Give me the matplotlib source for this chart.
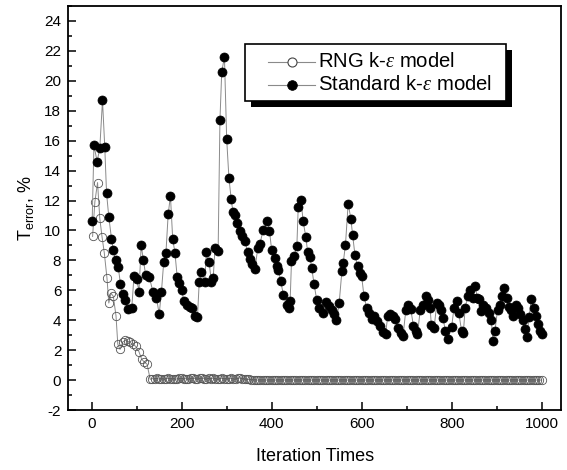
import matplotlib
matplotlib.use("Agg")
import matplotlib.pyplot as plt
from matplotlib.patches import Rectangle
from matplotlib.lines import Line2D
from matplotlib.ticker import MultipleLocator

plt.rcParams['font.family'] = ['Liberation Sans', 'DejaVu Sans']
plt.rcParams['mathtext.fontset'] = 'custom'
plt.rcParams['mathtext.rm'] = 'Liberation Sans'
plt.rcParams['mathtext.it'] = 'Liberation Serif:italic'
plt.rcParams['axes.unicode_minus'] = False

# ---------------- data ----------------
rng_iter_start = [2, 7, 13, 18, 23, 28, 34, 38, 43, 48, 54, 58, 63, 69, 75, 80,
                  85, 91, 98, 105, 111, 117, 123]
rng_val_start = [9.6, 11.9, 13.2, 10.8, 9.56, 8.5, 6.8, 5.15, 5.8, 5.6, 4.3, 2.4,
                 2.05, 2.55, 2.65, 2.6, 2.52, 2.4, 2.25, 1.9, 1.4, 1.2, 1.07]
# plateau sampled every 5 iterations from 130 to 1000
rng_iter_plateau = list(range(130, 1001, 5))
rng_val_plateau = [
    0.05, 0.10, 0.08, 0.12, 0.06, 0.10, 0.05, 0.09, 0.12, 0.07,
    0.10, 0.06, 0.08, 0.11, 0.13, 0.08, 0.10, 0.06, 0.12, 0.14,
    0.10, 0.08, 0.12, 0.15, 0.10, 0.07, 0.11, 0.09, 0.13, 0.08,
    0.06, 0.10, 0.12, 0.07, 0.10, 0.08, 0.11, 0.06, 0.09, 0.12,
    0.14, 0.10, 0.07, 0.05, 0.04, 0.03, 0.02,
    0.0, 0.0, 0.0, 0.0, 0.0, 0.0, 0.0, 0.0, 0.0, 0.0,
    0.0, 0.0, 0.0, 0.0, 0.0, 0.0, 0.0, 0.0, 0.0, 0.0,
    0.0, 0.0, 0.0, 0.0, 0.0, 0.0, 0.0, 0.0, 0.0, 0.0,
    0.0, 0.0, 0.0, 0.0, 0.0, 0.0, 0.0, 0.0, 0.0, 0.0,
    0.0, 0.0, 0.0, 0.0, 0.0, 0.0, 0.0, 0.0, 0.0, 0.0,
    0.0, 0.0, 0.0, 0.0, 0.0, 0.0, 0.0, 0.0, 0.0, 0.0,
    0.0, 0.0, 0.0, 0.0, 0.0, 0.0, 0.0, 0.0, 0.0, 0.0,
    0.0, 0.0, 0.0, 0.0, 0.0, 0.0, 0.0, 0.0, 0.0, 0.0,
    0.0, 0.0, 0.0, 0.0, 0.0, 0.0, 0.0, 0.0, 0.0, 0.0,
    0.0, 0.0, 0.0, 0.0, 0.0, 0.0, 0.0, 0.0, 0.0, 0.0,
    0.0, 0.0, 0.0, 0.0, 0.0, 0.0, 0.0, 0.0, 0.0, 0.0,
    0.0, 0.0, 0.0, 0.0, 0.0, 0.0, 0.0, 0.0, 0.0, 0.0,
    0.0, 0.0, 0.0, 0.0, 0.0, 0.0, 0.0, 0.0,
]
rng_iter = rng_iter_start + rng_iter_plateau
rng_val = rng_val_start + rng_val_plateau

std_iter = [1, 5, 12, 18, 24, 29, 33, 38, 44, 48, 53, 59, 64, 69, 75, 80, 89, 94,
            100, 105, 110, 115, 120, 128, 136, 144, 150, 155, 160, 165, 170, 175,
            180, 185, 190, 195, 200, 205, 211, 218, 224, 229, 235, 239, 244, 251,
            255, 261, 266, 270, 274, 281, 285, 289, 295, 300, 305, 310, 314, 319,
            324, 329, 334, 340, 347, 352, 356, 363, 369, 374, 381, 390, 395, 400,
            407, 411, 415, 420, 426, 433, 438, 441, 444, 450, 456, 459, 465, 470,
            476, 480, 485, 489, 494, 500, 506, 513, 521, 528, 533, 538, 544, 550,
            556, 559, 564, 570, 576, 580, 585, 591, 596, 600, 605, 611, 617, 622,
            627, 633, 641, 647, 653, 658, 664, 669, 674, 681, 687, 692, 698, 704,
            709, 715, 720, 724, 730, 736, 742, 747, 752, 755, 761, 767, 772, 777,
            781, 786, 792, 800, 805, 811, 816, 822, 826, 830, 836, 841, 847, 852,
            857, 861, 865, 870, 876, 882, 888, 892, 896, 902, 907, 912, 917, 922,
            927, 932, 937, 942, 947, 952, 958, 963, 967, 972, 977, 982, 987, 992,
            997, 1000]
std_val = [10.6, 15.7, 14.6, 15.5, 18.7, 15.6, 12.5, 10.9, 9.45, 8.7, 8.0, 7.55,
           6.4, 5.75, 5.35, 4.75, 4.8, 6.95, 6.78, 5.9, 9.0, 8.0, 7.0, 6.9, 5.9,
           5.5, 4.4, 5.9, 7.87, 8.5, 11.1, 12.3, 9.45, 8.5, 6.9, 6.5, 6.0, 5.26,
           5.0, 4.9, 4.85, 4.3, 4.2, 6.55, 7.25, 6.55, 8.55, 7.87, 6.55, 6.8, 8.8,
           8.65, 17.35, 20.6, 21.6, 16.1, 13.5, 12.1, 11.2, 11.0, 10.5, 9.95, 9.6,
           9.3, 8.56, 8.09, 7.76, 7.42, 8.83, 9.1, 10.05, 10.6, 9.99, 8.67, 8.16,
           7.6, 7.38, 6.6, 5.7, 5.04, 4.8, 5.26, 7.93, 8.27, 8.98, 11.57, 12.06,
           10.6, 9.54, 8.54, 8.2, 7.5, 6.45, 5.37, 4.8, 4.48, 5.19, 4.97, 4.7, 4.41,
           4.03, 5.15, 7.27, 7.83, 9.05, 11.8, 10.77, 9.67, 8.38, 7.6, 7.16, 6.93,
           5.64, 4.82, 4.48, 4.08, 4.25, 3.92, 3.59, 3.2, 3.05, 4.3, 4.4, 4.3, 4.1,
           3.45, 3.14, 2.96, 4.65, 5.0, 4.75, 3.63, 3.3, 3.05, 4.65, 5.0, 5.65,
           5.37, 4.8, 3.65, 3.48, 5.15, 5.0, 4.65, 4.15, 3.25, 2.75, 3.55, 4.8,
           5.26, 4.45, 3.3, 3.14, 4.85, 5.6, 6.0, 5.5, 6.3, 5.5, 5.4, 4.6, 5.0, 4.8,
           4.5, 4.0, 2.6, 3.25, 4.7, 5.0, 5.6, 6.15, 5.5, 4.9, 4.7, 4.3, 5.0, 4.85,
           4.4, 4.0, 3.4, 2.85, 4.2, 5.4, 4.85, 4.3, 3.75, 3.3, 3.1]

series_labels = [r'RNG k-$\varepsilon$ model', r'Standard k-$\varepsilon$ model']
x_ticks = [0, 200, 400, 600, 800, 1000]
y_ticks = list(range(-2, 25, 2))

# ---------------- figure ----------------
W, H = 567, 470
fig = plt.figure(figsize=(W / 100, H / 100), dpi=100)
ax = fig.add_axes([68.3 / W, 60 / H, (561 - 68.3) / W, 404 / H])

line_col = '#8a8a8a'
ax.plot(rng_iter, rng_val, color=line_col, lw=0.7, marker='o', ms=6.0,
        mfc='none', mec='#555555', mew=0.6, zorder=2)
ax.plot(std_iter, std_val, color=line_col, lw=0.7, marker='o', ms=6.5,
        mfc='black', mec='black', mew=0.5, zorder=3)

ax.set_xlim(-52, 1043)
ax.set_ylim(-2, 25)
ax.set_xticks(x_ticks)
ax.set_yticks(y_ticks)
ax.xaxis.set_minor_locator(MultipleLocator(100))
ax.yaxis.set_minor_locator(MultipleLocator(1))
ax.tick_params(which='both', direction='in', top=False, right=False, width=1.1,
               labelsize=11, colors='black')
ax.tick_params(which='major', length=5.5, pad=5)
ax.tick_params(which='minor', length=3)
for s in ax.spines.values():
    s.set_linewidth(1.3)

ax.set_xlabel('Iteration Times', fontsize=13, labelpad=12)
ax.set_ylabel(r'$\mathrm{T_{error}}$, %', fontsize=13, labelpad=6)

# ---------------- legend (Origin style box with solid drop shadow) ----------------
def fx(px):
    return px / W

def fy(py):
    return 1 - py / H

bx0, bx1, by0, by1 = 245, 506, 44, 101   # box in image pixels (top-down)
sh = 6
fig.patches.append(Rectangle((fx(bx0 + sh), fy(by1 + sh)), fx(bx1) - fx(bx0),
                             fy(by0) - fy(by1), transform=fig.transFigure,
                             facecolor='black', edgecolor='none', zorder=20, figure=fig))
fig.patches.append(Rectangle((fx(bx0), fy(by1)), fx(bx1) - fx(bx0),
                             fy(by0) - fy(by1), transform=fig.transFigure,
                             facecolor='white', edgecolor='black', lw=1.2, zorder=21,
                             figure=fig))
rows_y = [61.5, 85]
styles = [dict(mfc='white', mec='#444444', mew=0.8, ms=6.5),
          dict(mfc='black', mec='black', mew=0.5, ms=7.0)]
for ry, lab, st in zip(rows_y, series_labels, styles):
    fig.lines.append(Line2D([fx(268), fx(315)], [fy(ry), fy(ry)], transform=fig.transFigure,
                            color=line_col, lw=0.8, zorder=22, figure=fig))
    fig.lines.append(Line2D([fx(291.5)], [fy(ry)], transform=fig.transFigure, marker='o',
                            ls='none', zorder=23, figure=fig, **st))
    fig.text(fx(318), fy(ry), lab, fontsize=14.6, va='center', ha='left', zorder=24)

fig.savefig('out.png', dpi=100)
